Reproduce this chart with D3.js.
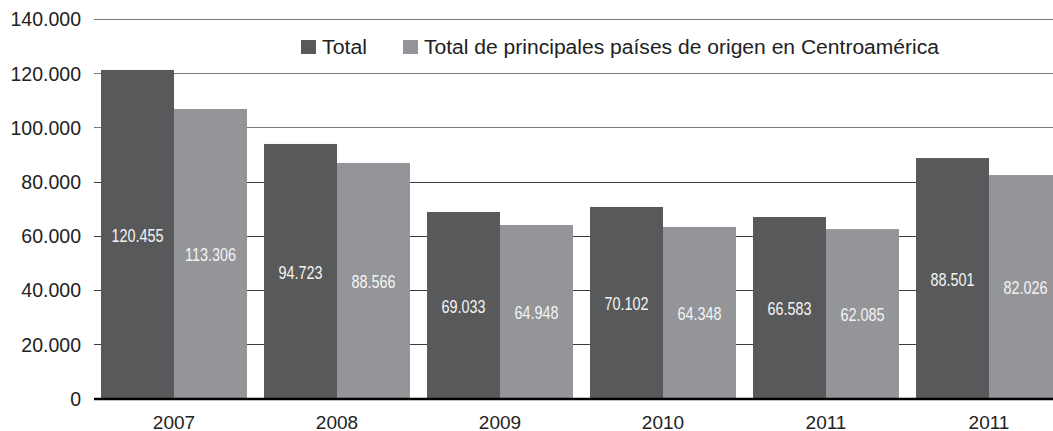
<!DOCTYPE html>
<html>
<head>
<meta charset="utf-8">
<script src="https://cdn.jsdelivr.net/npm/d3@7"></script>
<style>
  html, body { margin: 0; padding: 0; background: #fff; }
  svg { display: block; }
</style>
</head>
<body>
<svg id="chart" width="1053" height="431"></svg>
<script>
// ---- data ----
const categories = ["2007", "2008", "2009", "2010", "2011", "2011 "];
const seriesNames = ["Total", "Total de principales países de origen en Centroamérica"];
const totalValues = [121200, 93900, 68800, 70650, 66950, 88700];
const centroValues = [106800, 86900, 64000, 63300, 62500, 82450];
const totalLabels = ["120.455", "94.723", "69.033", "70.102", "66.583", "88.501"];
const centroLabels = ["113.306", "88.566", "64.948", "64.348", "62.085", "82.026"];
const yTicks = [0, 20000, 40000, 60000, 80000, 100000, 120000, 140000];

// ---- layout ----
const W = 1053, H = 431;
const svg = d3.select("#chart");
const colors = ["#58595b", "#939598"];

const x0 = d3.scaleBand().domain(categories).range([92.5, 1070.5]).paddingInner(17/163).paddingOuter(8.5/163);
const x1 = d3.scaleBand().domain([0, 1]).range([0, x0.bandwidth()]);
const y = d3.scaleLinear().domain([0, 140000]).range([398.5, 19]);

const fmt = v => d3.format(",")(v).replace(/,/g, ".");

// grid lines
svg.append("g").selectAll("line").data(yTicks.filter(d => d > 0)).join("line")
  .attr("x1", 94).attr("x2", W)
  .attr("y1", d => Math.round(y(d)) + 0.5).attr("y2", d => Math.round(y(d)) + 0.5)
  .attr("stroke", d => d >= 100000 ? "#7a7a7a" : "#3c3c3c")
  .attr("stroke-width", 1.2);

// y axis labels
const yAxis = d3.axisLeft(y).tickValues(yTicks).tickFormat(fmt).tickSize(0).tickPadding(0);
const gy = svg.append("g").attr("transform", "translate(81,0)").call(yAxis);
gy.select(".domain").remove();
gy.selectAll("text")
  .attr("font-family", "'Liberation Sans', Arial, sans-serif")
  .attr("font-size", 19.5).attr("fill", "#222").attr("dy", "0.35em");

// bars
const data = categories.map((c, i) => ({ c, vals: [totalValues[i], centroValues[i]], labels: [totalLabels[i], centroLabels[i]] }));
const groups = svg.append("g").selectAll("g").data(data).join("g")
  .attr("transform", d => `translate(${x0(d.c)},0)`);

groups.selectAll("rect").data(d => d.vals.map((v, k) => ({ v, k }))).join("rect")
  .attr("x", d => x1(d.k)).attr("width", x1.bandwidth())
  .attr("y", d => y(d.v)).attr("height", d => y(0) - y(d.v))
  .attr("fill", d => colors[d.k]);

groups.selectAll("text.val").data(d => d.vals.map((v, k) => ({ v, k, label: d.labels[k] }))).join("text")
  .attr("class", "val")
  .attr("transform", d => `translate(${x1(d.k) + x1.bandwidth() / 2},${(y(d.v) + y(0)) / 2 + 1}) scale(0.8,1)`)
  .attr("dy", "0.36em")
  .attr("text-anchor", "middle")
  .attr("font-family", "'Liberation Sans', Arial, sans-serif")
  .attr("font-size", 18)
  .attr("fill", "#f4f4f4")
  .text(d => d.label);

// baseline
svg.append("line").attr("x1", 94).attr("x2", W).attr("y1", y(0) + 0.5).attr("y2", y(0) + 0.5)
  .attr("stroke", "#000").attr("stroke-width", 2.5);

// x axis labels
const xAxis = d3.axisBottom(x0).tickSize(0).tickPadding(0).tickFormat(d => d.trim());
const gx = svg.append("g").attr("transform", "translate(0,415)").call(xAxis);
gx.select(".domain").remove();
gx.selectAll("text")
  .attr("font-family", "'Liberation Sans', Arial, sans-serif")
  .attr("font-size", 19).attr("fill", "#222").attr("dy", "0.71em");

// legend
const legendItems = [{ x: 301, name: seriesNames[0], len: 45 }, { x: 403, name: seriesNames[1], len: 515 }];
const lg = svg.append("g").selectAll("g").data(legendItems).join("g")
  .attr("transform", d => `translate(${d.x},40)`);
lg.append("rect").attr("width", 15).attr("height", 14).attr("fill", (d, i) => colors[i]);
lg.append("text").attr("x", 21).attr("y", 7).attr("dy", "0.35em")
  .attr("font-family", "'Liberation Sans', Arial, sans-serif")
  .attr("font-size", 19.5).attr("fill", "#222")
  .attr("textLength", d => d.len).attr("lengthAdjust", "spacingAndGlyphs")
  .text(d => d.name);
</script>
</body>
</html>
